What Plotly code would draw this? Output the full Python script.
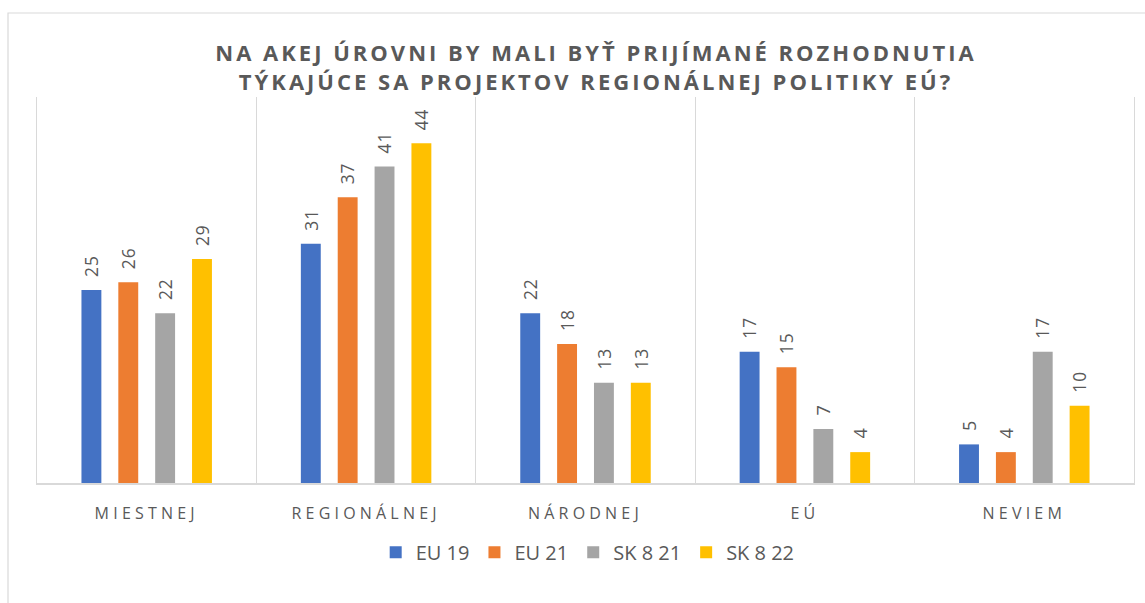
import plotly.graph_objects as go

categories = ["MIESTNEJ", "REGIONÁLNEJ", "NÁRODNEJ", "EÚ", "NEVIEM"]
series_names = ["EU 19", "EU 21", "SK 8 21", "SK 8 22"]
eu19 = [25, 31, 22, 17, 5]
eu21 = [26, 37, 18, 15, 4]
sk821 = [22, 41, 13, 7, 17]
sk822 = [29, 44, 13, 4, 10]
colors = ["#4472C4", "#ED7D31", "#A5A5A5", "#FFC000"]

title_text = "NA AKEJ ÚROVNI BY MALI BYŤ PRIJÍMANÉ ROZHODNUTIA<br>TÝKAJÚCE SA PROJEKTOV REGIONÁLNEJ POLITIKY EÚ?"

fig = go.Figure()
for name, vals, col in zip(series_names, [eu19, eu21, sk821, sk822], colors):
    fig.add_trace(go.Bar(
        name=name, x=categories, y=vals, marker=dict(color=col, line=dict(width=0)),
        text=[str(v) for v in vals], textposition="outside", textangle=-90,
        textfont=dict(family="Open Sans", size=18, color="#595959"),
        cliponaxis=False,
    ))

fig.update_layout(
    width=1145, height=603,
    margin=dict(l=37, r=11, t=97, b=120),
    paper_bgcolor="white", plot_bgcolor="white",
    barmode="group", bargap=0.328, bargroupgap=0.46,
    title=dict(text=title_text, x=596 / 1145, xanchor="center", yref="container",
               y=1 - 61 / 603, yanchor="top",
               font=dict(family="Open Sans", size=22, color="#595959", weight="bold")),
    legend=dict(orientation="h", x=0.502, xanchor="center", y=-0.129, yanchor="top",
                font=dict(family="Open Sans", size=20, color="#595959"),
                itemwidth=30, traceorder="normal"),
    xaxis=dict(showgrid=True, gridcolor="#D9D9D9", gridwidth=1, tickson="boundaries",
               showline=True, linecolor="#D9D9D9", linewidth=1.5, ticks="",
               ticklabelstandoff=15,
               tickfont=dict(family="Open Sans", size=16, color="#595959")),
    yaxis=dict(range=[0, 50], showgrid=False, showticklabels=False, zeroline=False,
               showline=True, mirror=True, linecolor="#D9D9D9", linewidth=1),
    shapes=[dict(type="rect", xref="paper", yref="paper",
                 x0=(8 - 37) / 1097, x1=1.2, y0=-0.6, y1=(483 - 13) / 386,
                 line=dict(color="#D9D9D9", width=1.2), fillcolor="rgba(0,0,0,0)", layer="below")],
)

post = """
document.body.style.margin='0';
var gd=document.getElementById('{plot_id}');
function styleText(){
  gd.querySelectorAll('.xtick text').forEach(function(t){t.style.letterSpacing='4.2px';});
  gd.querySelectorAll('.gtitle').forEach(function(t){t.style.letterSpacing='3px';});
  gd.querySelectorAll('.bartext').forEach(function(t){t.style.letterSpacing='1px';
    if(!t.getAttribute('data-shifted')){
      t.setAttribute('transform','translate(0,-11) '+(t.getAttribute('transform')||''));
      t.setAttribute('data-shifted','1');
    }});
}
styleText(); gd.on('plotly_afterplot', styleText);
"""

fig.write_html("out.html", post_script=post, config={"displayModeBar": False})
